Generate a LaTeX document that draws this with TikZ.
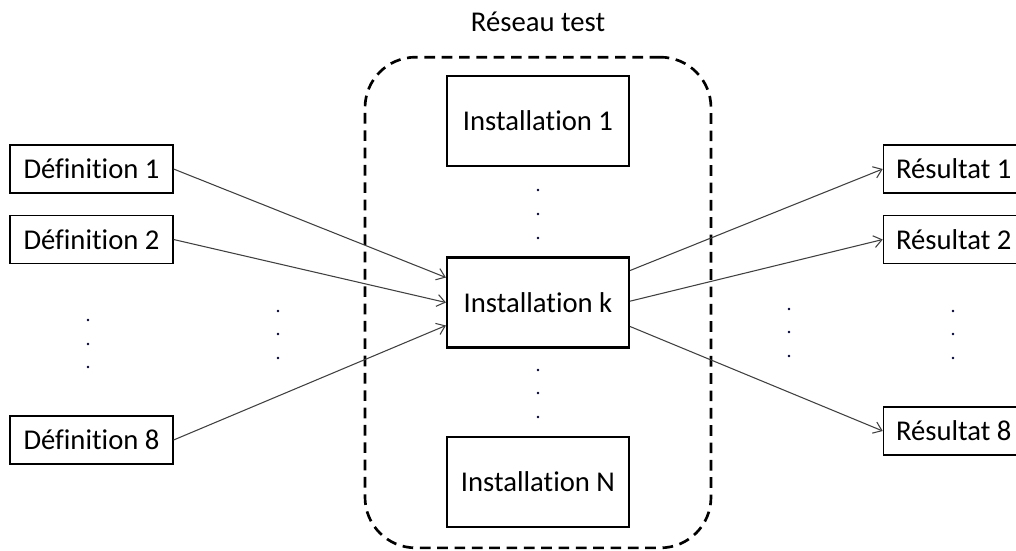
\documentclass[tikz,border=0pt]{standalone}
\usepackage{fontspec}
\setmainfont{Carlito}[Ligatures={NoCommon,NoRequired,NoContextual}]
\usetikzlibrary{arrows.meta,calc}
\begin{document}
\begin{tikzpicture}[x=0.75pt,y=-0.75pt,
  txt/.style={font=\fontsize{21.5}{25}\selectfont, text=black},
  inst/.style={txt, draw=black, line width=1.6pt, minimum width=136.5pt, minimum height=67.5pt, inner sep=0pt},
  defbox/.style={txt, draw=black, line width=0.9pt, minimum width=122.25pt, minimum height=36pt, inner sep=0pt},
  resbox/.style={txt, draw=black, line width=0.9pt, minimum width=112pt, minimum height=36pt, inner sep=0pt},
  conn/.style={draw=black!75, line width=0.8pt, -{Straight Barb[length=6pt,width=9pt,line width=0.8pt]}},
  dotm/.style={fill=black!80!blue}]
\useasboundingbox (0,0) rectangle (1016,550);
\clip (0,0) rectangle (1016,550);
% container
\node[draw=black, dashed, dash pattern=on 8pt off 5pt, line width=2pt, rounded corners=38pt,
      minimum width=259.5pt, minimum height=368pt, inner sep=0pt] (net) at (538,302.5) {};
\node[txt] (title) at (538,22) {Réseau test};
% installations
\node[inst] (inst1) at (538,121) {Installation 1};
\node[inst] (instk) at (538,302.5) {Installation k};
\node[inst] (instn) at (538,482) {Installation N};
% definitions
\node[defbox] (def1) at (91.5,169) {Définition 1};
\node[defbox] (def2) at (91.5,239.5) {Définition 2};
\node[defbox] (def8) at (91.5,440) {Définition 8};
% results (cut off at right edge)
\node[resbox] (res1) at (958,169) {\makebox[101pt][l]{\hspace{4pt}Résultat 1}};
\node[resbox] (res2) at (958,239.5) {\makebox[101pt][l]{\hspace{4pt}Résultat 2}};
\node[resbox] (res8) at (958,431) {\makebox[101pt][l]{\hspace{4pt}Résultat 8}};
% dots
\foreach \yy in {190,214,238} \fill[dotm] (538,\yy) circle (1.3);
\foreach \yy in {370,393,417} \fill[dotm] (538,\yy) circle (1.3);
\foreach \yy in {320,344,367} \fill[dotm] (88,\yy) circle (1.3);
\foreach \yy in {311,334,358} \fill[dotm] (278,\yy) circle (1.3);
\foreach \yy in {309,332,356} \fill[dotm] (789,\yy) circle (1.3);
\foreach \yy in {311,334,358} \fill[dotm] (953,\yy) circle (1.3);
% connectors
\draw[conn] (def1.east) -- ([yshift=18.75pt]instk.west);
\draw[conn] (def2.east) -- (instk.west);
\draw[conn] (def8.east) -- ([yshift=-17.25pt]instk.west);
\draw[conn] ([yshift=24pt]instk.east) -- (res1.west);
\draw[conn] ([yshift=1pt]instk.east) -- (res2.west);
\draw[conn] ([yshift=-18pt]instk.east) -- (res8.west);
\end{tikzpicture}
\end{document}
